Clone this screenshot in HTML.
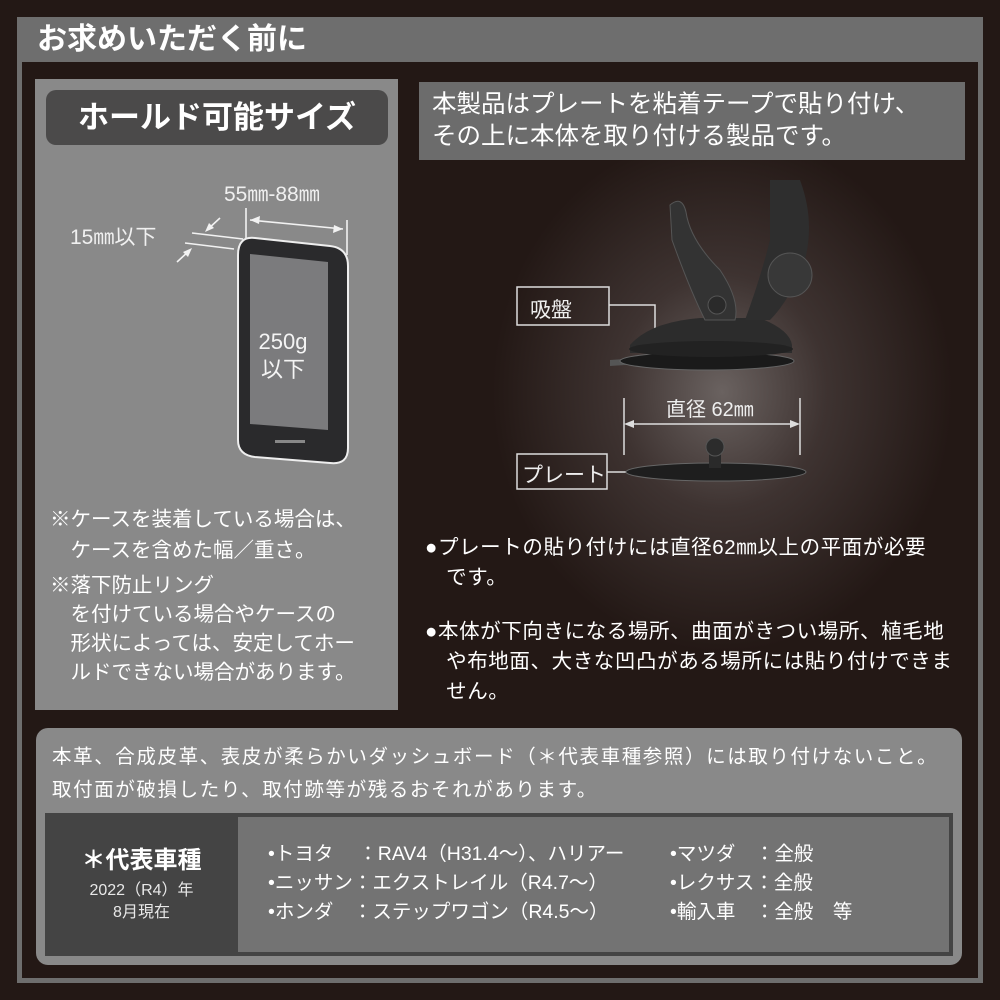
<!DOCTYPE html>
<html><head><meta charset="utf-8"><style>
*{margin:0;padding:0;box-sizing:border-box}
body{width:1000px;height:1000px;background:#231815;position:relative;overflow:hidden;font-family:"Liberation Sans","Noto Sans CJK JP",sans-serif;color:#fff}
.a{position:absolute;white-space:nowrap}
</style></head><body>
<div class="a" style="left:17px;top:17px;width:966px;height:966px;background:#6e6e6e"></div>
<div class="a" style="left:22px;top:62px;width:956px;height:916px;background:radial-gradient(ellipse 230px 260px at 700px 330px,#6a6260 0%,#3e3331 45%,#231815 100%)"></div>
<div class="a" style="left:37px;top:21px;font-size:30px;font-weight:bold;line-height:38px">お求めいただく前に</div>

<div class="a" style="left:35px;top:79px;width:363px;height:631px;background:#898989"></div>
<div class="a" style="left:46px;top:90px;width:342px;height:55px;background:#4b4a4a;border-radius:10px;font-size:31px;font-weight:bold;text-align:center;line-height:55px">ホールド可能サイズ</div>

<svg class="a" style="left:35px;top:170px" width="363" height="310" viewBox="35 170 363 310">
<g stroke="#f2f2f2" stroke-width="1.6" fill="none">
<line x1="246" y1="208" x2="246" y2="240"/><line x1="347" y1="220" x2="347" y2="255"/>
<line x1="250" y1="220" x2="343" y2="229"/>
<line x1="192" y1="233" x2="243" y2="239"/><line x1="185" y1="243" x2="234" y2="249"/>
<line x1="207" y1="230" x2="220" y2="218"/><line x1="177" y1="262" x2="190" y2="250"/>
</g>
<g fill="#f2f2f2"><path d="M250 220 l10 -4 l-1 8z"/><path d="M343 229 l-10 4 l1 -8z"/><path d="M205 232 l4 -9 l5 5z"/><path d="M192 248 l-4 9 l-5 -5z"/></g>
<path d="M255 238 L330 246 Q348 248 348 266 L348 448 Q348 465 330 463 L255 457 Q238 455 238 440 L238 255 Q238 236 255 238Z" fill="#2a2a2c" stroke="#eee" stroke-width="2"/>
<path d="M250 254 L328 262 L328 430 L250 424Z" fill="#7b7b7d"/>
<rect x="275" y="440" width="30" height="3" fill="#888"/>
</svg>
<div class="a" style="left:224px;top:178px;font-size:21px;color:#f0f0f0">55㎜-88㎜</div>
<div class="a" style="left:70px;top:221px;font-size:21px;color:#f0f0f0">15㎜以下</div>
<div class="a" style="left:250px;top:328px;width:66px;text-align:center;font-size:22px;line-height:28px;color:#f4f4f4">250g<br>以下</div>
<div class="a" style="left:50px;top:504px;font-size:20.5px;line-height:31px">※ケースを装着している場合は、<br>　ケースを含めた幅／重さ。</div>
<div class="a" style="left:50px;top:571px;font-size:20.5px;line-height:29px">※落下防止リング<br>　を付けている場合やケースの<br>　形状によっては、安定してホー<br>　ルドできない場合があります。</div>

<div class="a" style="left:419px;top:82px;width:546px;height:78px;background:#6c6c6c;font-size:24.5px;line-height:32px;padding:7px 0 0 13px">本製品はプレートを粘着テープで貼り付け、<br>その上に本体を取り付ける製品です。</div>

<svg class="a" style="left:480px;top:180px" width="360" height="320" viewBox="480 180 360 320">
<g fill="none" stroke="#ddd" stroke-width="1.5">
<rect x="517" y="287" width="92" height="38"/><polyline points="609,305 655,305 655,338"/>
<rect x="517" y="454" width="90" height="35"/><line x1="607" y1="472" x2="630" y2="472"/>
<line x1="624" y1="398" x2="624" y2="455"/><line x1="800" y1="398" x2="800" y2="455"/>
<line x1="630" y1="424" x2="794" y2="424"/>
</g>
<path d="M624 424 l10 -4 v8z M800 424 l-10 -4 v8z" fill="#ddd"/>
<path d="M610 360 L640 358 L640 364 L610 366Z" fill="#555"/>
<ellipse cx="707" cy="361" rx="87" ry="9" fill="#1a1a1a" stroke="#666"/>
<path d="M630 345 Q650 322 700 318 L760 318 Q790 330 792 345 L792 353 L630 353Z" fill="#2c2c2c"/>
<ellipse cx="711" cy="349" rx="82" ry="8" fill="#222"/>
<path d="M670 205 Q682 195 686 212 Q690 240 720 270 Q740 300 735 320 L705 320 Q690 290 672 240Z" fill="#333" stroke="#555"/>
<circle cx="717" cy="305" r="9" fill="#2a2a2a" stroke="#555"/>
<path d="M770 180 L800 180 Q815 220 805 260 Q790 300 770 320 L745 320 Q760 280 770 240Z" fill="#2e2e2e"/>
<circle cx="790" cy="275" r="22" fill="#383838" stroke="#555"/>
<ellipse cx="716" cy="472" rx="90" ry="9" fill="#1e1e1e" stroke="#666"/>
<rect x="709" y="450" width="12" height="18" fill="#2a2a2a"/>
<circle cx="715" cy="447" r="9" fill="#2c2c2c" stroke="#555"/>
</svg>
<div class="a" style="left:530px;top:294px;font-size:21px;color:#eee">吸盤</div>
<div class="a" style="left:522px;top:459px;font-size:21px;color:#eee">プレート</div>
<div class="a" style="left:666px;top:393px;font-size:20px;color:#eee">直径 62㎜</div>

<div class="a" style="left:425px;top:533px;font-size:20.5px;line-height:30px;letter-spacing:0.6px">●プレートの貼り付けには直径62㎜以上の平面が必要<br>　です。</div>
<div class="a" style="left:425px;top:617px;font-size:20.5px;line-height:30px;letter-spacing:0.6px">●本体が下向きになる場所、曲面がきつい場所、植毛地<br>　や布地面、大きな凹凸がある場所には貼り付けできま<br>　せん。</div>

<div class="a" style="left:36px;top:728px;width:926px;height:237px;background:#898989;border-radius:12px"></div>
<div class="a" style="left:52px;top:741px;font-size:19.5px;line-height:33px;letter-spacing:1.6px">本革、合成皮革、表皮が柔らかいダッシュボード（＊代表車種参照）には取り付けないこと。<br>取付面が破損したり、取付跡等が残るおそれがあります。</div>
<div class="a" style="left:45px;top:813px;width:908px;height:143px;background:#444"></div>
<div class="a" style="left:238px;top:817px;width:711px;height:135px;background:#737373"></div>
<div class="a" style="left:45px;top:840px;width:193px;text-align:center;font-size:24px;font-weight:bold">＊代表車種</div>
<div class="a" style="left:45px;top:880px;width:193px;text-align:center;font-size:16px;line-height:22px;color:#e8e8e8">2022（R4）年<br>8月現在</div>
<div class="a" style="left:268px;top:840px;font-size:19.5px;line-height:29px">•トヨタ　 ：RAV4（H31.4～）、ハリアー<br>•ニッサン：エクストレイル（R4.7～）<br>•ホンダ　：ステップワゴン（R4.5～）</div>
<div class="a" style="left:670px;top:840px;font-size:19.5px;line-height:29px">•マツダ　：全般<br>•レクサス：全般<br>•輸入車　：全般　等</div>
</body></html>
